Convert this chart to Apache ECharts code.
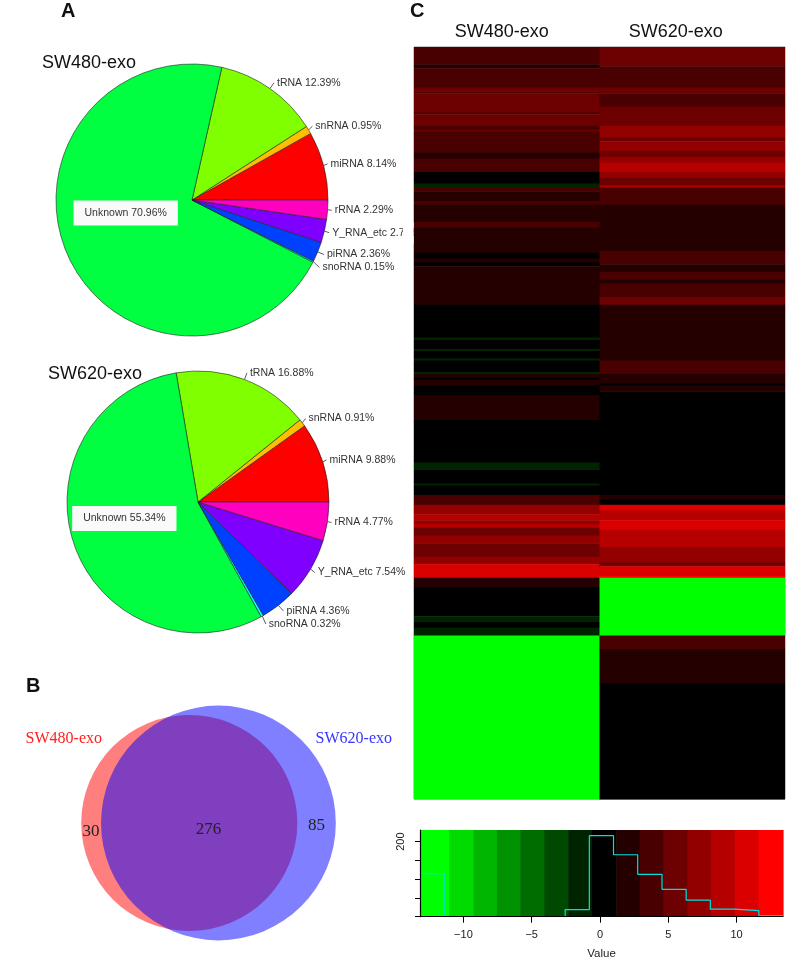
<!DOCTYPE html>
<html>
<head>
<meta charset="utf-8">
<title>Exosome small RNA profile</title>
<script src="https://cdn.jsdelivr.net/npm/echarts@6.0.0/dist/echarts.min.js"></script>
<style>
  html, body { margin: 0; padding: 0; background: #fff; }
  #chart { width: 790px; height: 964px; }
</style>
</head>
<body>
<div id="chart"></div>
<script>
// A: small RNA classes, % of reads (pie order as drawn by R, counter-clockwise from 3 o'clock)
const rnaClasses = ["miRNA", "snRNA", "tRNA", "Unknown", "snoRNA", "piRNA", "Y_RNA_etc", "rRNA"]
const sw480Share = [8.14, 0.95, 12.39, 70.96, 0.15, 2.36, 2.76, 2.29]
const sw620Share = [9.88, 0.91, 16.88, 55.34, 0.32, 4.36, 7.54, 4.77]
const classColors = ["#FF0000", "#FFBF00", "#80FF00", "#00FF40", "#00FFFF", "#0040FF", "#8000FF", "#FF00BF"]

// B: miRNA overlap
const vennSets = ["SW480-exo", "SW620-exo"]
const onlySW480 = 30
const shared = 276
const onlySW620 = 85

// C: heatmap, top to bottom as runs of rows with one value each
const columns = ["SW480-exo", "SW620-exo"]
const sw480Runs = [9, 2, 10, 2, 1, 10, 1, 6, 2, 1, 11, 3, 7, 6, 2, 2, 5, 2, 9, 3, 13, 3, 2, 2, 20, 17, 1, 5, 1, 4, 1, 6, 1, 2, 1, 3, 5, 13, 22, 4, 7, 1, 5, 5, 5, 3, 2, 2, 4, 4, 7, 4, 7, 5, 15, 3, 3, 4, 85]
const sw480Vals = [3.6, 1.9, 3.6, 5.4, 3.6, 5.4, 3.6, 5.4, 3.6, 5.4, 3.6, 1.9, 3.6, 0.1, -1.7, 3.6, 1.9, 3.6, 1.9, 3.6, 1.9, 0.1, 1.9, 0.1, 1.9, 0.1, -1.7, 0.1, -1.7, 0.1, -1.7, 0.1, -1.7, 1.9, 0.1, 1.9, 0.1, 1.9, 0.1, -1.7, 0.1, -1.7, 0.1, 3.6, 7.2, 9.0, 7.2, 9.0, 5.4, 7.2, 5.4, 7.2, 10.7, 1.9, 0.1, -1.7, 0.1, -1.7, -12.3]
const sw620Runs = [10, 11, 3, 7, 10, 6, 2, 5, 3, 3, 5, 3, 4, 1, 9, 24, 7, 4, 4, 2, 7, 4, 29, 7, 5, 1, 3, 54, 2, 3, 3, 5, 5, 9, 8, 2, 5, 1, 30, 7, 18, 60]
const sw620Vals = [5.4, 3.6, 5.4, 3.6, 5.4, 7.2, 5.4, 7.2, 5.4, 7.2, 9.0, 7.2, 5.4, 9.0, 3.6, 1.9, 3.6, 1.9, 3.6, 1.9, 3.6, 5.4, 1.9, 3.6, 1.9, 0.1, 1.9, 0.1, 1.9, 0.1, 10.7, 9.0, 10.7, 9.0, 7.2, 5.4, 10.7, 12.5, -12.3, 3.6, 1.9, 0.1]

// colour key and histogram
const histBreaks = [-13.18, -11.41, -9.64, -7.86, -6.09, -4.32, -2.55, -0.78, 0.99, 2.76, 4.54, 6.31, 8.08, 9.85, 11.63, 13.40]
const histCounts = [115, 0, 0, 0, 0, 0, 19, 216, 165, 113, 73, 44, 20, 16, 2]
const keyEdges = [-13.18, -11.05, -9.26, -7.55, -5.84, -4.07, -2.33, -0.59, 1.19, 2.90, 4.64, 6.40, 8.11, 9.87, 11.61, 13.40]
const keyColors = ["#00FF00", "#00DB00", "#00B600", "#009200", "#006D00", "#004900", "#002400", "#000000",
  "#240000", "#490000", "#6D0000", "#920000", "#B60000", "#DB0000", "#FF0000"]
const valueTicks = [-10, -5, 0, 5, 10]
const countTicks = [0, 50, 100, 150, 200]

const sans = "Liberation Sans, Arial, sans-serif"
const serif = "Liberation Serif, Times New Roman, serif"

// ---- pies
function pieSeries(shares, center, radius, unknownOffset) {
  return {
    type: "pie",
    center: center,
    radius: radius,
    startAngle: 0,
    clockwise: false,
    z: 2,
    emphasis: { disabled: true },
    itemStyle: { borderColor: "#222", borderWidth: 0.6 },
    label: {
      formatter: p => p.name + " " + p.value.toFixed(2) + "%",
      fontFamily: sans,
      fontSize: 10.5,
      color: "#333",
      distanceToLabelLine: 3,
    },
    labelLine: { length: 7, length2: 0, lineStyle: { color: "#333", width: 0.8 } },
    data: rnaClasses.map((name, i) => {
      const item = { name: name, value: shares[i], itemStyle: { color: classColors[i] } }
      if (name === "Unknown") {
        item.label = { position: "inside", backgroundColor: "#fafafa", padding: [7, 11], offset: unknownOffset }
        item.labelLine = { show: false }
      }
      return item
    }),
  }
}

// ---- venn geometry: circle areas proportional to set sizes
const rA = Math.sqrt((onlySW480 + shared) / Math.PI)
const rB = Math.sqrt((onlySW620 + shared) / Math.PI)
function lensArea(d) {
  const a = (d * d + rA * rA - rB * rB) / (2 * d)
  const b = d - a
  return rA * rA * Math.acos(a / rA) - a * Math.sqrt(rA * rA - a * a)
    + rB * rB * Math.acos(b / rB) - b * Math.sqrt(rB * rB - b * b)
}
let lo = Math.abs(rA - rB) + 1e-6, hi = rA + rB - 1e-6
for (let k = 0; k < 60; k++) {
  const mid = (lo + hi) / 2
  if (lensArea(mid) > shared) lo = mid
  else hi = mid
}
const dist = (lo + hi) / 2
const cA = (rA - rB - dist) / 2
const cB = cA + dist
const vennPx = 10.95 // px per unit
const vennW = 380, vennH = 250

const vennCircles = [[cA, 0, rA, 0], [cB, 0, rB, 1]]
const vennFill = ["rgba(255,0,0,0.5)", "rgba(0,0,255,0.5)"]
const polar = (cx, r, deg) => [cx + r * Math.cos(deg * Math.PI / 180), r * Math.sin(deg * Math.PI / 180)]
const catA = polar(cA, rA * 1.4, 146)
const catB = polar(cB, rB * 1.36, 32)
const vennLabels = [
  { x: ((cA - rA) + (cB - rB)) / 2, y: -0.8, text: String(onlySW480), fill: "#222", font: "17px " + serif },
  { x: 0, y: -0.6, text: String(shared), fill: "#222", font: "17px " + serif },
  { x: ((cA + rA) + (cB + rB)) / 2, y: -0.2, text: String(onlySW620), fill: "#222", font: "17px " + serif },
  { x: catA[0], y: catA[1], text: vennSets[0], fill: "#ff2020", font: "16px " + serif },
  { x: catB[0], y: catB[1], text: vennSets[1], fill: "#3535ff", font: "16px " + serif },
]

// ---- heatmap blocks: [column, first row, value, row count]
const heatRuns = []
;[[sw480Runs, sw480Vals], [sw620Runs, sw620Vals]].forEach(([runs, vals], c) => {
  let start = 0
  runs.forEach((n, i) => {
    heatRuns.push([c, start, vals[i], n])
    start += n
  })
})
const nRows = sw480Runs.reduce((s, n) => s + n, 0)
const rowIds = Array.from({ length: nRows }, (_, i) => String(i))

const keyTop = 231
const keyPieces = keyColors.map((color, i) => ({ min: histBreaks[i], max: histBreaks[i + 1], color: color }))
const histLine = histBreaks.map((b, i) => [b, histCounts[Math.min(i, histCounts.length - 1)]])

const chart = echarts.init(document.getElementById("chart"), null, { renderer: "canvas" })

const panelTitle = (text, left, top, size, weight) => ({
  text: text, left: left, top: top, padding: 0,
  textStyle: { fontFamily: sans, fontSize: size, fontWeight: weight, color: "#111" },
})

const option = {
  animation: false,
  backgroundColor: "#fff",
  textStyle: { fontFamily: sans },
  title: [
    panelTitle("A", 61, 1, 20, "bold"),
    panelTitle("SW480-exo", 42, 54, 18, "normal"),
    panelTitle("SW620-exo", 48, 365, 18, "normal"),
    panelTitle("B", 26, 676, 20, "bold"),
    panelTitle("C", 410, 1, 20, "bold"),
  ],
  // panel A is cut at its right edge in the figure
  graphic: [{ type: "rect", left: 403, top: 222, shape: { width: 10.5, height: 22 }, style: { fill: "#fff" }, z: 100 }],
  grid: [
    { left: 208.5 - vennW / 2, top: 823 - vennH / 2, width: vennW, height: vennH },
    { left: 414, top: 47, width: 371, height: 752, show: true, borderColor: "#8a8a8a", borderWidth: 1, backgroundColor: "transparent" },
    { left: 420, top: 830, width: 363, height: 86.7 },
  ],
  xAxis: [
    { gridIndex: 0, type: "value", show: false, min: -vennW / 2 / vennPx, max: vennW / 2 / vennPx },
    {
      gridIndex: 1, type: "category", data: columns, position: "top",
      axisLine: { show: false }, axisTick: { show: false },
      axisLabel: {
        margin: 6, fontFamily: sans, fontSize: 18, color: "#111",
        formatter: (v, i) => (i === 0 ? "{a|" + v + "}" : "{b|" + v + "}"),
        rich: {
          a: { fontFamily: sans, fontSize: 18, color: "#111", padding: [0, 10, 0, 0] },
          b: { fontFamily: sans, fontSize: 18, color: "#111", padding: [0, 33, 0, 0] },
        },
      },
    },
    {
      gridIndex: 2, type: "value", min: histBreaks[0], max: histBreaks[histBreaks.length - 1], z: 10,
      splitLine: { show: false },
      axisLine: { show: true, onZero: false, lineStyle: { color: "#000", width: 1 } },
      axisTick: { show: true, customValues: valueTicks, length: 6, lineStyle: { color: "#000" } },
      axisLabel: {
        customValues: valueTicks, margin: 13, fontSize: 11, color: "#222", fontFamily: sans,
        formatter: v => String(v).replace("-", "\u2212"),
      },
      name: "Value", nameLocation: "middle", nameGap: 31,
      nameTextStyle: { fontSize: 11.5, color: "#222", fontFamily: sans },
    },
  ],
  yAxis: [
    { gridIndex: 0, type: "value", show: false, min: -vennH / 2 / vennPx, max: vennH / 2 / vennPx },
    { gridIndex: 1, type: "category", data: rowIds, inverse: true, show: false },
    {
      gridIndex: 2, type: "value", min: 0, max: keyTop, z: 10,
      splitLine: { show: false },
      axisLine: { show: true, onZero: false, lineStyle: { color: "#000", width: 1.2 } },
      axisTick: { show: true, customValues: countTicks, length: 5, lineStyle: { color: "#000" } },
      axisLabel: { customValues: [200], rotate: 90, margin: 14, fontSize: 11, color: "#222", fontFamily: sans },
    },
  ],
  visualMap: {
    type: "piecewise", show: false, seriesIndex: 4, dimension: 2, pieces: keyPieces,
  },
  series: [
    pieSeries(sw480Share, [192, 200], 136, [-2, -17]),
    pieSeries(sw620Share, [198, 502], 131, [-9, -6]),
    {
      type: "custom", xAxisIndex: 0, yAxisIndex: 0, silent: true,
      data: vennCircles,
      encode: { x: 0, y: 1 },
      renderItem: (params, api) => {
        const c = api.coord([api.value(0), api.value(1)])
        const r = api.size([api.value(2), 0])[0]
        return { type: "circle", shape: { cx: c[0], cy: c[1], r: r }, style: { fill: vennFill[api.value(3)] } }
      },
    },
    {
      type: "custom", xAxisIndex: 0, yAxisIndex: 0, silent: true, z: 3,
      data: vennLabels.map(l => [l.x, l.y]),
      encode: { x: 0, y: 1 },
      renderItem: (params, api) => {
        const l = vennLabels[params.dataIndex]
        const p = api.coord([l.x, l.y])
        return {
          type: "text", x: p[0], y: p[1],
          style: { text: l.text, fill: l.fill, font: l.font, align: "center", verticalAlign: "middle" },
        }
      },
    },
    {
      type: "custom", xAxisIndex: 1, yAxisIndex: 1, z: 5, silent: true,
      data: heatRuns,
      encode: { x: 0, y: 1 },
      renderItem: (params, api) => {
        const p = api.coord([api.value(0), api.value(1)])
        const cell = api.size([1, 1])
        return {
          type: "rect",
          shape: {
            x: p[0] - cell[0] / 2,
            y: p[1] - cell[1] / 2,
            width: cell[0] + (api.value(0) === 0 ? 0.5 : 0),
            height: cell[1] * api.value(3) + 0.5,
          },
          style: { fill: api.visual("color") },
        }
      },
    },
    {
      type: "custom", xAxisIndex: 2, yAxisIndex: 2, silent: true,
      data: keyColors.map((c, i) => [keyEdges[i], keyEdges[i + 1], i]),
      encode: { x: [0, 1] },
      renderItem: (params, api) => {
        const p0 = api.coord([api.value(0), keyTop])
        const p1 = api.coord([api.value(1), 0])
        return {
          type: "rect",
          shape: { x: p0[0], y: p0[1], width: p1[0] - p0[0] + 0.6, height: p1[1] - p0[1] },
          style: { fill: keyColors[api.value(2)] },
        }
      },
    },
    {
      type: "line", xAxisIndex: 2, yAxisIndex: 2, step: "end", z: 4,
      data: histLine, showSymbol: false, silent: true,
      lineStyle: { color: "#00E0E0", width: 1.2 },
    },
  ],
}

chart.setOption(option)
</script>
</body>
</html>
